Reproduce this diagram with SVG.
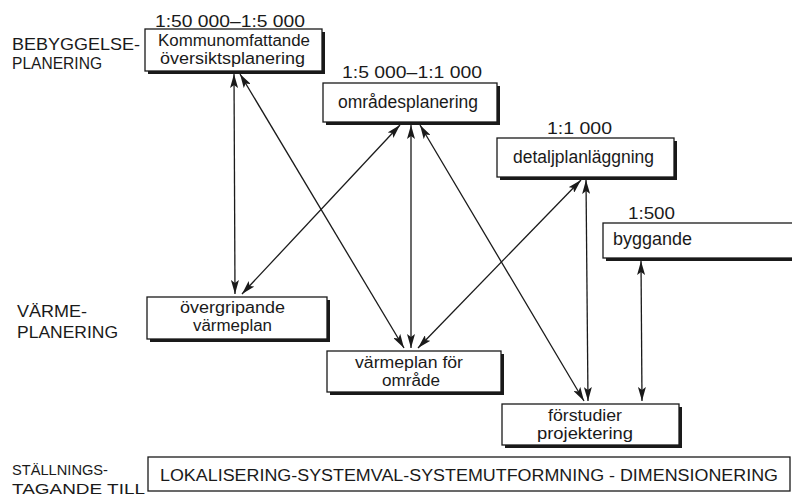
<svg xmlns="http://www.w3.org/2000/svg" width="792" height="498" viewBox="0 0 792 498">
<defs>
<style>
text{font-family:"Liberation Sans",Arial,sans-serif;fill:#1a1a1a;}
.t{font-size:16px;}
.s{font-size:17px;}
.s2{font-size:15.5px;}
.b{font-size:17.5px;}
.lab{font-size:16px;}
.sh{fill:#1a1a1a;}
.bx{fill:#fff;stroke:#1a1a1a;stroke-width:1.3;}
.ln{stroke:#1a1a1a;stroke-width:1.3;fill:none;marker-start:url(#ah);marker-end:url(#ah);}
</style>
<marker id="ah" viewBox="0 0 14 8" refX="14" refY="4" markerWidth="14" markerHeight="8" markerUnits="userSpaceOnUse" orient="auto-start-reverse">
<path d="M0,0 L14,4 L0,8 L3,4 Z" fill="#1a1a1a"/>
</marker>
</defs>
<rect width="792" height="498" fill="#fff"/>
<g id="side-labels">
<text class="s" x="12" y="50" textLength="128" lengthAdjust="spacingAndGlyphs">BEBYGGELSE-</text>
<text class="s" x="12" y="69" textLength="90" lengthAdjust="spacingAndGlyphs">PLANERING</text>
<text class="s" x="17" y="317" textLength="70" lengthAdjust="spacingAndGlyphs">VÄRME-</text>
<text class="s" x="17" y="338" textLength="101" lengthAdjust="spacingAndGlyphs">PLANERING</text>
<text class="s2" x="12" y="475" textLength="96" lengthAdjust="spacingAndGlyphs">STÄLLNINGS-</text>
<text class="s2" x="12" y="494" textLength="133" lengthAdjust="spacingAndGlyphs">TAGANDE TILL</text>
</g>
<g id="connectors">
<line class="ln" x1="234" y1="74" x2="235" y2="294"/>
<line class="ln" x1="240" y1="74" x2="404" y2="348"/>
<line class="ln" x1="400" y1="125" x2="242" y2="294"/>
<line class="ln" x1="411" y1="125" x2="411" y2="348"/>
<line class="ln" x1="420" y1="125" x2="584" y2="401"/>
<line class="ln" x1="581" y1="180" x2="418" y2="348"/>
<line class="ln" x1="586" y1="180" x2="588" y2="401"/>
<line class="ln" x1="641" y1="261" x2="642" y2="401"/>
</g>
<g id="n1">
<text class="lab" x="155" y="27" textLength="150" lengthAdjust="spacingAndGlyphs">1:50 000–1:5 000</text>
<rect class="sh" x="148" y="32" width="177" height="42"/>
<rect class="bx" x="145" y="29" width="177" height="42"/>
<text class="t" x="158" y="46" textLength="152" lengthAdjust="spacingAndGlyphs">Kommunomfattande</text>
<text class="t" x="160" y="64" textLength="145" lengthAdjust="spacingAndGlyphs">översiktsplanering</text>
</g>
<g id="n2">
<text class="lab" x="342" y="78" textLength="140" lengthAdjust="spacingAndGlyphs">1:5 000–1:1 000</text>
<rect class="sh" x="326" y="86" width="174" height="39"/>
<rect class="bx" x="323" y="83" width="174" height="39"/>
<text class="b" x="338" y="108" textLength="140" lengthAdjust="spacingAndGlyphs">områdesplanering</text>
</g>
<g id="n3">
<text class="lab" x="547" y="134" textLength="65" lengthAdjust="spacingAndGlyphs">1:1 000</text>
<rect class="sh" x="500" y="141" width="177" height="39"/>
<rect class="bx" x="497" y="138" width="177" height="39"/>
<text class="b" x="513" y="163" textLength="141" lengthAdjust="spacingAndGlyphs">detaljplanläggning</text>
</g>
<g id="n4">
<text class="lab" x="628" y="219" textLength="47" lengthAdjust="spacingAndGlyphs">1:500</text>
<rect class="sh" x="606" y="226" width="190" height="35"/>
<rect class="bx" x="603" y="223" width="192" height="35"/>
<text class="b" x="613" y="245" textLength="79" lengthAdjust="spacingAndGlyphs">byggande</text>
</g>
<g id="n5">
<rect class="sh" x="150" y="300" width="180" height="42"/>
<rect class="bx" x="147" y="297" width="180" height="42"/>
<text class="t" x="180" y="313" textLength="105" lengthAdjust="spacingAndGlyphs">övergripande</text>
<text class="t" x="193" y="331" textLength="79" lengthAdjust="spacingAndGlyphs">värmeplan</text>
</g>
<g id="n6">
<rect class="sh" x="330" y="354" width="174" height="41"/>
<rect class="bx" x="327" y="351" width="174" height="41"/>
<text class="t" x="355" y="368" textLength="108" lengthAdjust="spacingAndGlyphs">värmeplan för</text>
<text class="t" x="382" y="386" textLength="58" lengthAdjust="spacingAndGlyphs">område</text>
</g>
<g id="n7">
<rect class="sh" x="505" y="407" width="177" height="41"/>
<rect class="bx" x="502" y="404" width="177" height="41"/>
<text class="t" x="548" y="421" textLength="74" lengthAdjust="spacingAndGlyphs">förstudier</text>
<text class="t" x="537" y="439" textLength="96" lengthAdjust="spacingAndGlyphs">projektering</text>
</g>
<g id="n8">
<rect class="bx" x="148" y="457" width="642" height="34"/>
<text class="t" x="160" y="481" textLength="618" lengthAdjust="spacingAndGlyphs">LOKALISERING-SYSTEMVAL-SYSTEMUTFORMNING - DIMENSIONERING</text>
</g>
</svg>
